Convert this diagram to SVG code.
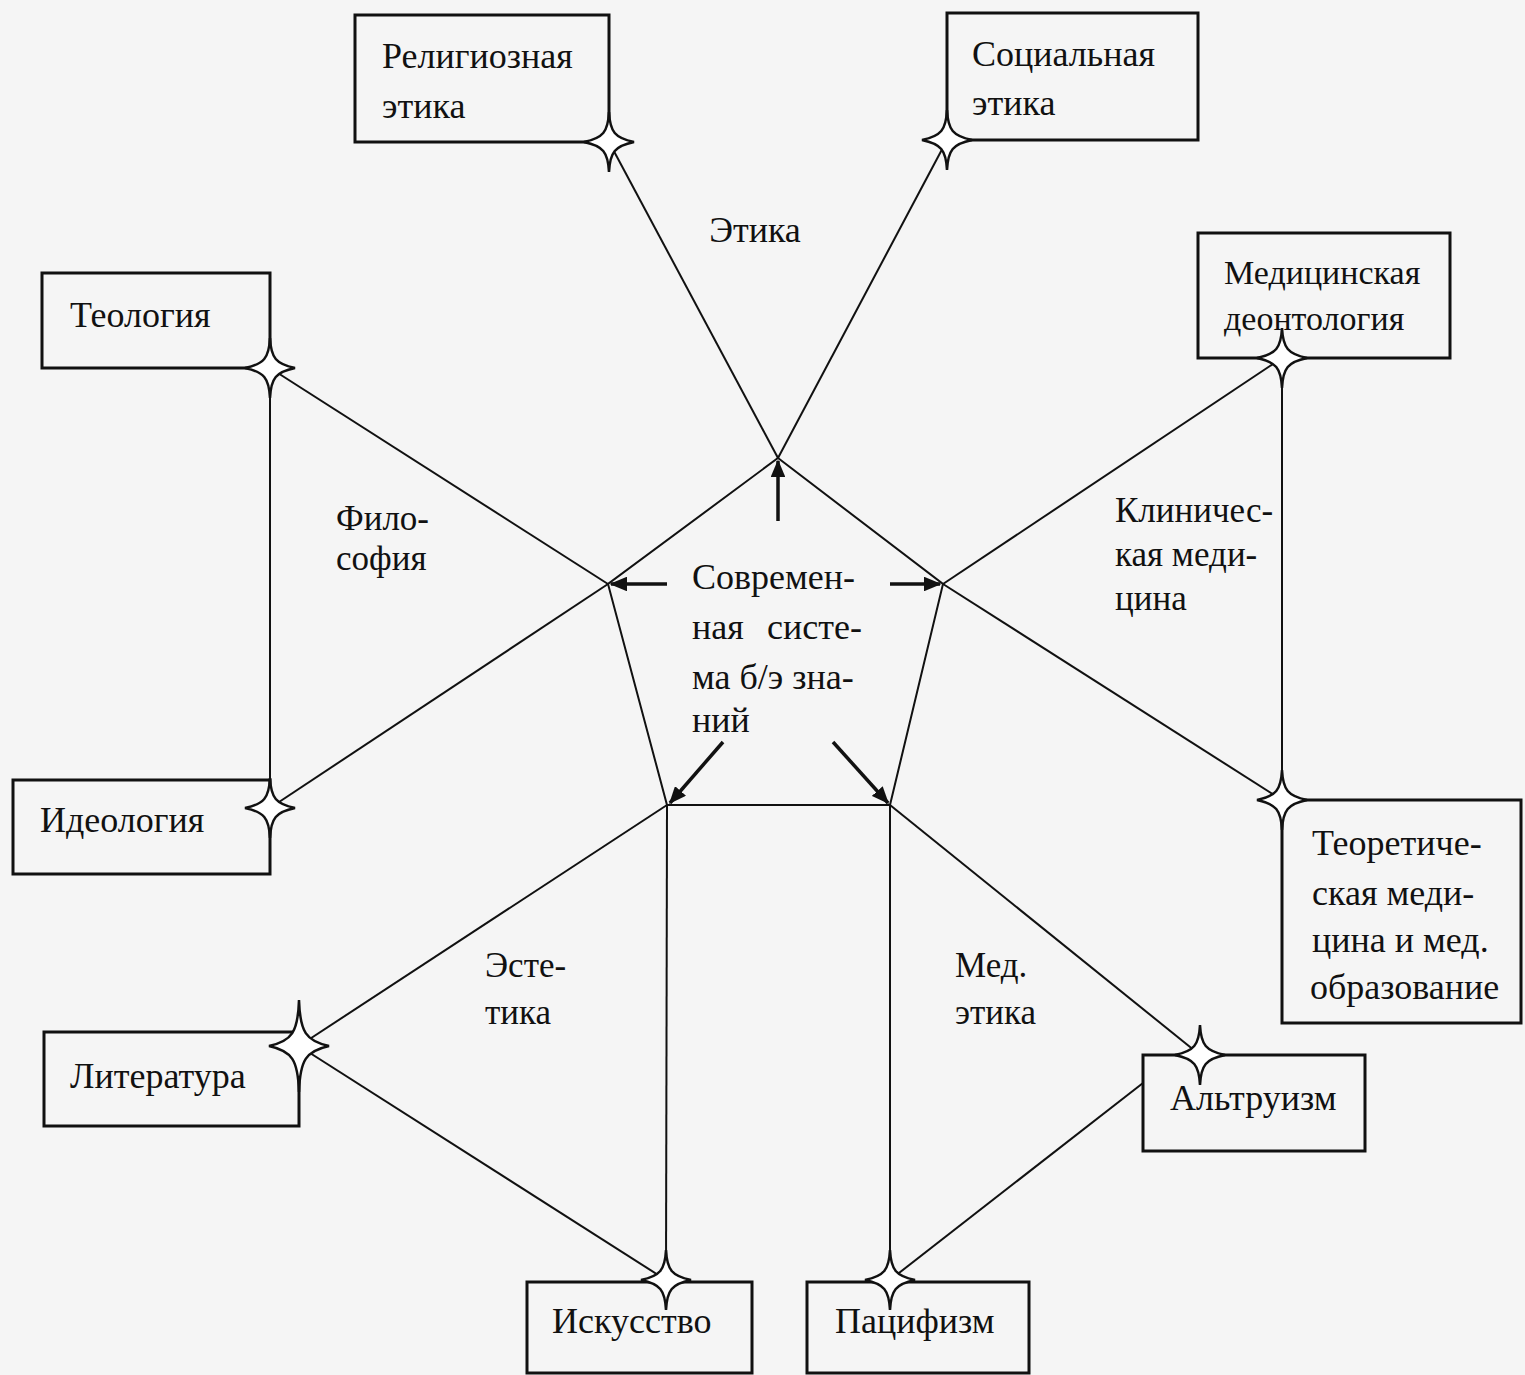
<svg xmlns="http://www.w3.org/2000/svg" xmlns:xlink="http://www.w3.org/1999/xlink" width="1525" height="1375" viewBox="0 0 1525 1375">
<style>
.bg{fill:#f5f5f5}
.box{fill:none;stroke:#111;stroke-width:3}
.ln{fill:none;stroke:#111;stroke-width:2}
.ar{fill:none;stroke:#111;stroke-width:3.5}
.star{fill:#fff;stroke:#111;stroke-width:2.5;stroke-linejoin:miter}
text{font-family:"Liberation Serif","Times New Roman",serif;font-size:36px;fill:#111}
.lb{font-size:35px}
</style>
<defs>
<path id="starA" class="star" d="M0,-30 C1,-10 6,-4 25,0 C6,4 1,10 0,30 C-1,10 -6,4 -25,0 C-6,-4 -1,-10 0,-30Z"/>
<path id="starB" class="star" d="M0,-46 C1,-14 7,-5 30,0 C7,5 1,14 0,46 C-1,14 -7,5 -30,0 C-7,-5 -1,-14 0,-46Z"/>
<marker id="ah" viewBox="0 0 12 10" refX="11" refY="5" markerWidth="5" markerHeight="4.2" orient="auto" markerUnits="strokeWidth">
<path d="M0,0 L12,5 L0,10 Z" fill="#111"/>
</marker>
</defs>
<rect class="bg" x="0" y="0" width="1525" height="1375"/>

<g id="connectors">
<line class="ln" x1="609" y1="142" x2="778" y2="458"/>
<line class="ln" x1="947" y1="140" x2="778" y2="458"/>
<line class="ln" x1="270" y1="368" x2="608" y2="584"/>
<line class="ln" x1="270" y1="808" x2="608" y2="584"/>
<line class="ln" x1="270" y1="368" x2="270" y2="808"/>
<line class="ln" x1="1282" y1="358" x2="943" y2="584"/>
<line class="ln" x1="1282" y1="800" x2="943" y2="584"/>
<line class="ln" x1="1282" y1="358" x2="1282" y2="800"/>
<line class="ln" x1="299" y1="1046" x2="667" y2="805"/>
<line class="ln" x1="299" y1="1046" x2="666" y2="1280"/>
<line class="ln" x1="667" y1="805" x2="666" y2="1280"/>
<line class="ln" x1="890" y1="805" x2="1200" y2="1055"/>
<line class="ln" x1="890" y1="805" x2="890" y2="1280"/>
<line class="ln" x1="890" y1="1280" x2="1143" y2="1083"/>
<polygon class="ln" points="778,458 943,584 890,805 667,805 608,584"/>
<line class="ar" x1="778" y1="521" x2="778" y2="461" marker-end="url(#ah)"/>
<line class="ar" x1="667" y1="584" x2="611" y2="584" marker-end="url(#ah)"/>
<line class="ar" x1="890" y1="584" x2="940" y2="584" marker-end="url(#ah)"/>
<line class="ar" x1="723" y1="742" x2="670" y2="803" marker-end="url(#ah)"/>
<line class="ar" x1="833" y1="742" x2="888" y2="803" marker-end="url(#ah)"/>
</g>

<g id="labels">
<text x="755" y="242" text-anchor="middle">Этика</text>
<text class="lb" x="336" y="530">Фило-</text>
<text class="lb" x="336" y="570">софия</text>
<text class="lb" x="1115" y="522">Клиничес-</text>
<text class="lb" x="1115" y="566">кая меди-</text>
<text class="lb" x="1115" y="610">цина</text>
<text class="lb" x="485" y="977">Эсте-</text>
<text class="lb" x="485" y="1024">тика</text>
<text class="lb" x="955" y="977">Мед.</text>
<text class="lb" x="955" y="1024">этика</text>
</g>

<g id="center">
<text x="692" y="589">Современ-</text>
<text x="692" y="639">ная</text>
<text x="862" y="639" text-anchor="end">систе-</text>
<text x="692" y="689">ма б/э зна-</text>
<text x="692" y="732">ний</text>
</g>

<g id="n-religious">
<rect class="box" x="355" y="15" width="254" height="127"/>
<text x="382" y="68">Религиозная</text>
<text x="382" y="118">этика</text>
</g>
<g id="n-social">
<rect class="box" x="947" y="13" width="251" height="127"/>
<text x="972" y="66">Социальная</text>
<text x="972" y="115">этика</text>
</g>
<g id="n-theology">
<rect class="box" x="42" y="273" width="228" height="95"/>
<text x="70" y="327">Теология</text>
</g>
<g id="n-deontology">
<rect class="box" x="1198" y="233" width="252" height="125"/>
<text x="1224" y="284" style="font-size:34px">Медицинская</text>
<text x="1224" y="330" style="font-size:34px">деонтология</text>
</g>
<g id="n-ideology">
<rect class="box" x="13" y="780" width="257" height="94"/>
<text x="40" y="832">Идеология</text>
</g>
<g id="n-theoretical">
<rect class="box" x="1282" y="800" width="239" height="223"/>
<text x="1312" y="855">Теоретиче-</text>
<text x="1312" y="905">ская меди-</text>
<text x="1312" y="952">цина и мед.</text>
<text x="1310" y="999">образование</text>
</g>
<g id="n-literature">
<rect class="box" x="44" y="1032" width="255" height="94"/>
<text x="70" y="1088">Литература</text>
</g>
<g id="n-altruism">
<rect class="box" x="1143" y="1055" width="222" height="96"/>
<text x="1170" y="1110">Альтруизм</text>
</g>
<g id="n-art">
<rect class="box" x="527" y="1282" width="225" height="91"/>
<text x="552" y="1333">Искусство</text>
</g>
<g id="n-pacifism">
<rect class="box" x="807" y="1282" width="222" height="91"/>
<text x="835" y="1333">Пацифизм</text>
</g>

<g id="stars">
<use xlink:href="#starA" x="609" y="142"/>
<use xlink:href="#starA" x="947" y="140"/>
<use xlink:href="#starA" x="270" y="368"/>
<use xlink:href="#starA" x="270" y="808"/>
<use xlink:href="#starA" x="1282" y="358"/>
<use xlink:href="#starA" x="1282" y="800"/>
<use xlink:href="#starB" x="299" y="1046"/>
<use xlink:href="#starA" x="1200" y="1055"/>
<use xlink:href="#starA" x="666" y="1280"/>
<use xlink:href="#starA" x="890" y="1280"/>
</g>
</svg>
